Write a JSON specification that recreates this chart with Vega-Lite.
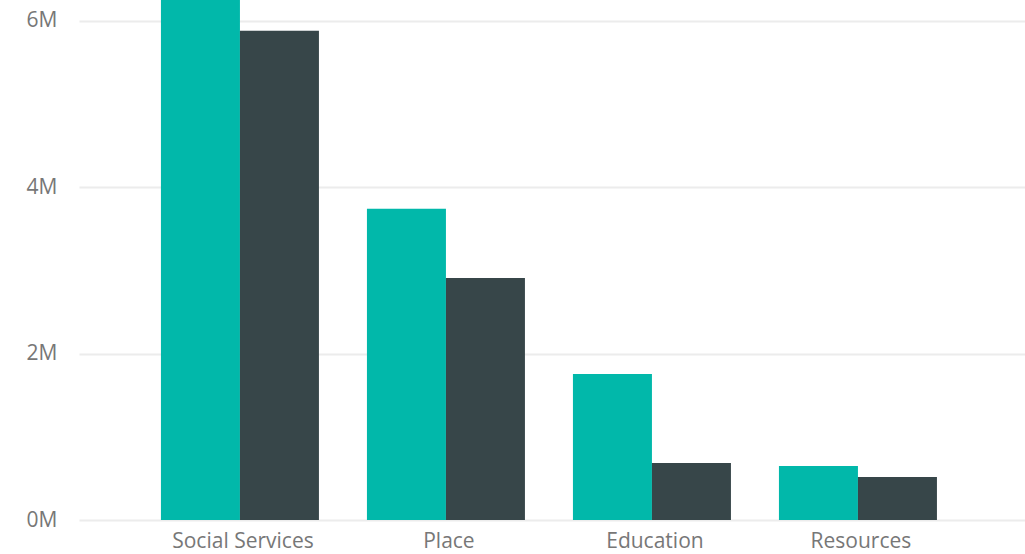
{
  "$schema": "https://vega.github.io/schema/vega-lite/v6.json",
  "width": 946,
  "height": 520,
  "autosize": "none",
  "padding": {"left": 79, "top": 0, "right": 0, "bottom": 34},
  "background": "white",
  "config": {"view": {"stroke": null}},
  "data": {
    "values": [
      {"category": "Social Services", "series": "A", "value": 6600000},
      {"category": "Social Services", "series": "B", "value": 5880000},
      {"category": "Place", "series": "A", "value": 3740000},
      {"category": "Place", "series": "B", "value": 2910000},
      {"category": "Education", "series": "A", "value": 1755000},
      {"category": "Education", "series": "B", "value": 685000},
      {"category": "Resources", "series": "A", "value": 649000},
      {"category": "Resources", "series": "B", "value": 517000}
    ]
  },
  "mark": {"type": "bar", "clip": true},
  "encoding": {
    "x": {
      "field": "category",
      "type": "nominal",
      "sort": ["Social Services", "Place", "Education", "Resources"],
      "scale": {"paddingInner": 0.233, "paddingOuter": 0.4126, "align": 0.482},
      "axis": {
        "title": null,
        "domain": false,
        "ticks": false,
        "labelAngle": 0,
        "labelFont": "Open Sans",
        "labelFontSize": 21,
        "labelColor": "#777777",
        "labelPadding": 10,
        "labelOffset": 3
      }
    },
    "xOffset": {"field": "series", "type": "nominal", "sort": ["A", "B"], "scale": {"paddingInner": 0, "paddingOuter": 0}},
    "y": {
      "field": "value",
      "type": "quantitative",
      "scale": {"domain": [0, 6250000], "nice": false, "zero": true},
      "axis": {
        "title": null,
        "domain": false,
        "ticks": false,
        "values": [0, 2000000, 4000000, 6000000],
        "labelExpr": "(datum.value / 1000000) + 'M'",
        "labelFont": "Open Sans",
        "labelFontSize": 21,
        "labelColor": "#777777",
        "labelPadding": 22,
        "grid": true,
        "gridColor": "#ececec",
        "gridWidth": 2
      }
    },
    "color": {
      "field": "series",
      "type": "nominal",
      "scale": {"domain": ["A", "B"], "range": ["#01B8AA", "#374649"]},
      "legend": null
    }
  }
}
